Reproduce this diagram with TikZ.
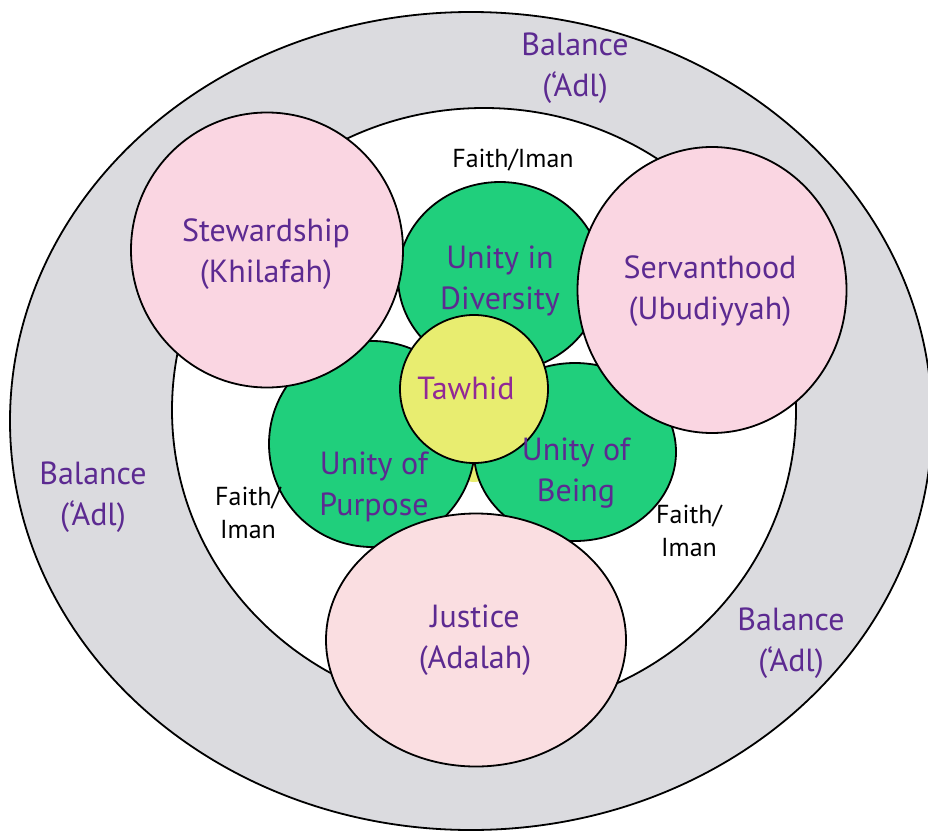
\documentclass[tikz,border=0pt]{standalone}
\usepackage{fontspec}
\setmainfont{PT Sans}
\usetikzlibrary{shapes.geometric}

\definecolor{ringgray}{RGB}{219,219,223}
\definecolor{petalpink}{RGB}{250,214,226}
\definecolor{justicepink}{RGB}{250,222,225}
\definecolor{leafgreen}{RGB}{32,207,124}
\definecolor{coreyellow}{RGB}{232,237,112}
\definecolor{namepurple}{RGB}{92,42,145}
\definecolor{corepurple}{RGB}{145,40,150}

\begin{document}
\begin{tikzpicture}[x=1pt,y=-1pt,
  disc/.style={draw=black, line width=1.8pt, ellipse, inner sep=0pt},
  purplelabel/.style={text=namepurple, align=center, inner sep=0pt,
    font=\fontsize{32}{41}\selectfont},
  faithlabel/.style={text=black, align=center, inner sep=0pt,
    font=\fontsize{26}{33}\selectfont}]

\useasboundingbox (0,0) rectangle (928,832);

% rings
\node[disc, fill=ringgray, minimum width=922, minimum height=818] (balance) at (471,421) {};
\node[disc, fill=white, minimum width=624, minimum height=604] (faith) at (484,410) {};

% unities round the core
\fill[coreyellow] (474,462) circle (20);
\node[disc, fill=leafgreen, minimum width=204, minimum height=190] (diversity) at (500,277) {};
\node[disc, fill=leafgreen, minimum size=206] (purpose) at (372,444) {};
\node[disc, fill=leafgreen, minimum width=202, minimum height=178] (being) at (575,452) {};
\node[disc, fill=coreyellow, minimum size=148] (tawhid) at (474,389) {};

% outer discs
\node[disc, fill=petalpink, minimum width=272, minimum height=275] (steward) at (267,250) {};
\node[disc, fill=petalpink, minimum width=269, minimum height=286] (servant) at (712,290) {};
\node[disc, fill=justicepink, minimum width=300, minimum height=253] (justice) at (476,640) {};

\node[purplelabel] (stewardtext) at (266,254) {Stewardship\\(Khilafah)};
\node[purplelabel] (servanttext) at (710,291) {Servanthood\\(Ubudiyyah)};
\node[purplelabel] (justicetext) at (475,640) {Justice\\(Adalah)};
\node[purplelabel] (diversitytext) at (500,281) {Unity in\\Diversity};
\node[purplelabel] (purposetext) at (374,487) {Unity of\\Purpose};
\node[purplelabel] (beingtext) at (576,473) {Unity of\\Being};
\node[purplelabel, text=corepurple] (tawhidtext) at (466,388) {Tawhid};

\node[purplelabel] (balancetop) at (575,68) {Balance\\(‘Adl)};
\node[purplelabel] (balanceleft) at (93,497) {Balance\\(‘Adl)};
\node[purplelabel] (balanceright) at (791,643) {Balance\\(‘Adl)};

\node[faithlabel] (faithtop) at (513,160) {Faith/Iman};
\node[faithlabel] (faithleft) at (248,513) {Faith/\\Iman};
\node[faithlabel] (faithright) at (689,531) {Faith/\\Iman};

\end{tikzpicture}
\end{document}
